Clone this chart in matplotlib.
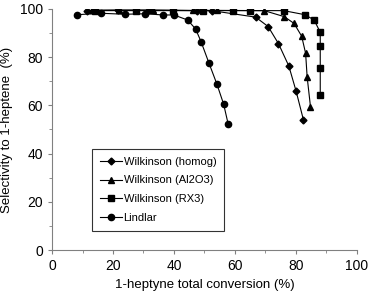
import numpy as np
import matplotlib
matplotlib.use("Agg")
import matplotlib.pyplot as plt
from matplotlib.ticker import MultipleLocator

plt.rcParams['font.family'] = ['Liberation Sans', 'DejaVu Sans']

# Wilkinson (homog) - diamonds
homog_x = [11.5, 21.7, 31.8, 47.5, 52.4, 66.8, 70.9, 74.3, 77.7, 80.1, 82.5]
homog_y = [99.3, 99.5, 99.5, 99.3, 99.3, 96.6, 92.7, 85.6, 76.3, 65.8, 53.9]

# Wilkinson (Al2O3) - triangles
al_x = [13.0, 22.0, 33.0, 46.2, 54.0, 69.6, 76.2, 79.4, 81.9, 83.2, 83.7, 84.8]
al_y = [99.5, 99.5, 99.5, 99.4, 99.4, 99.3, 96.8, 94.0, 88.7, 81.6, 71.8, 59.4]

# Wilkinson (RX3) - squares
rx_x = [14.0, 27.5, 39.7, 49.6, 59.4, 65.0, 76.0, 83.0, 86.0, 88.0, 88.0, 88.0, 88.0]
rx_y = [99.3, 99.3, 99.3, 99.3, 99.3, 99.3, 99.3, 97.6, 95.4, 90.3, 84.5, 75.7, 64.4]

# Lindlar - circles
lind_x = [8.1, 16.1, 24.0, 30.5, 36.5, 40.0, 44.5, 47.1, 48.9, 51.5, 54.1, 56.3, 57.8]
lind_y = [97.6, 98.2, 97.8, 98.0, 97.5, 97.5, 95.4, 91.7, 86.4, 77.5, 68.8, 60.5, 52.2]

fig = plt.figure(figsize=(3.69, 2.98), dpi=100)
ax = fig.add_axes([0.141, 0.161, 0.826, 0.809])

ax.plot(homog_x, homog_y, color='black', lw=0.8, marker='D', ms=3.5, label='Wilkinson (homog)')
ax.plot(al_x, al_y, color='black', lw=0.8, marker='^', ms=4.5, label='Wilkinson (Al2O3)')
ax.plot(rx_x, rx_y, color='black', lw=0.8, marker='s', ms=4.5, label='Wilkinson (RX3)')
ax.plot(lind_x, lind_y, color='black', lw=0.8, marker='o', ms=4.5, label='Lindlar')

ax.set_xlim(0, 100)
ax.set_ylim(0, 100)
ax.xaxis.set_major_locator(MultipleLocator(20))
ax.xaxis.set_minor_locator(MultipleLocator(10))
ax.yaxis.set_major_locator(MultipleLocator(20))
ax.yaxis.set_minor_locator(MultipleLocator(10))
ax.spines['top'].set_visible(False)
ax.spines['right'].set_visible(False)
for s in ['left', 'bottom']:
    ax.spines[s].set_color('#808080')
    ax.spines[s].set_linewidth(0.8)
ax.tick_params(which='both', direction='out', color='#808080', labelsize=10)
ax.tick_params(which='major', length=3)
ax.tick_params(which='minor', length=2)

ax.set_xlabel('1-heptyne total conversion (%)', fontsize=9.5, labelpad=4)
ax.set_ylabel('Selectivity to 1-heptene  (%)', fontsize=9.5, labelpad=5)

leg = ax.legend(loc='upper left', bbox_to_anchor=(0.131, 0.42), fontsize=8,
                frameon=True, fancybox=False, edgecolor='black', handlelength=2.0,
                borderpad=0.7, labelspacing=0.8, handletextpad=0.15,
                borderaxespad=0)
leg.get_frame().set_linewidth(0.8)

fig.savefig('out.png', dpi=100)
